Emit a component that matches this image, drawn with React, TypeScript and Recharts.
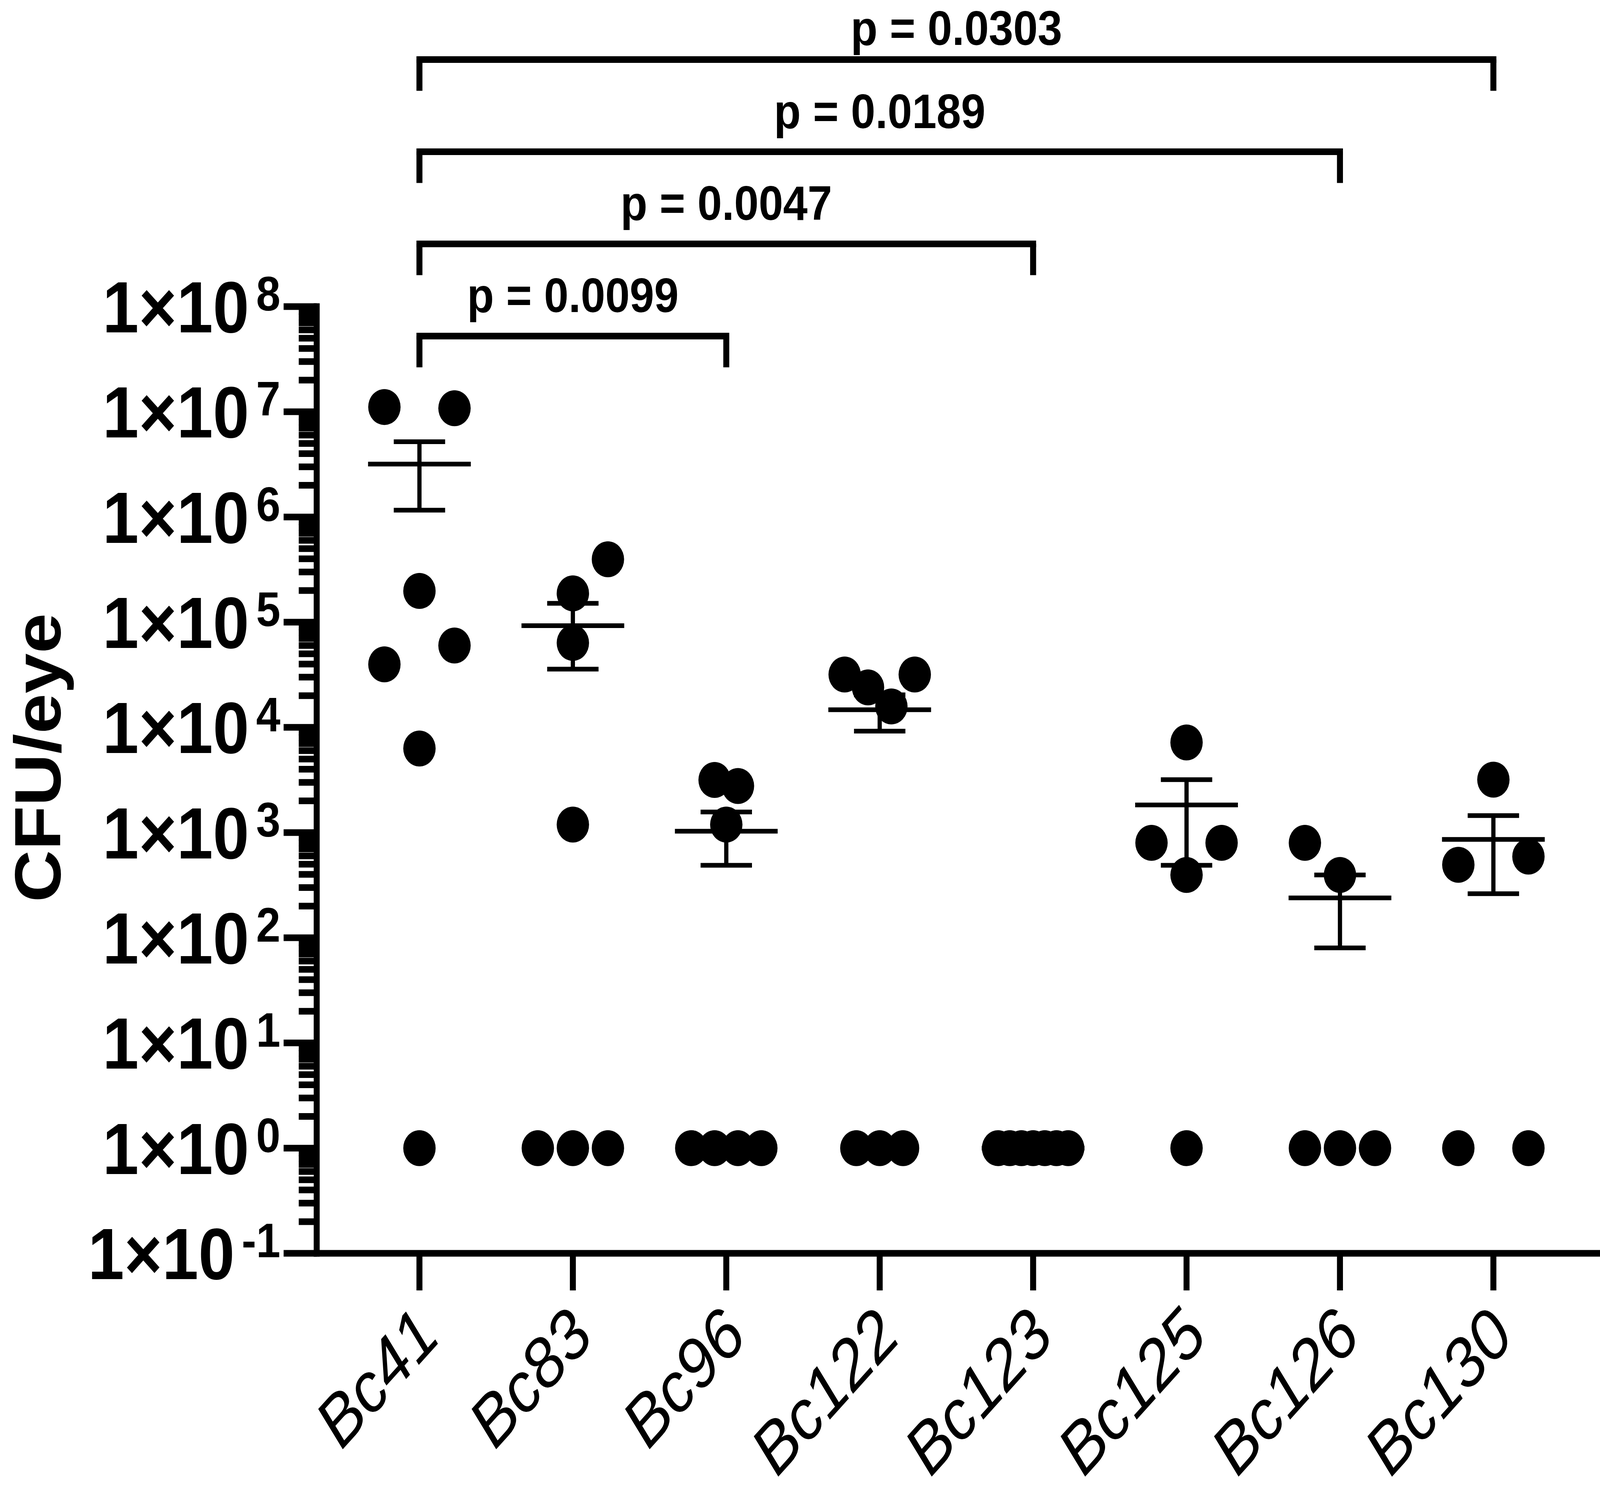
import React from 'react';
import { ScatterChart, Scatter, XAxis, YAxis, ErrorBar, ReferenceLine, ReferenceDot } from 'recharts';

// ---------------- data ----------------
const strains = ['Bc41', 'Bc83', 'Bc96', 'Bc122', 'Bc123', 'Bc125', 'Bc126', 'Bc130'];

const bc41 = [1.11e7, 1.08e7, 1.98e5, 6.0e4, 3.97e4, 6.3e3, 1];
const bc83 = [3.96e5, 1.88e5, 6.35e4, 1.19e3, 1, 1, 1];
const bc96 = [3.16e3, 2.77e3, 1.19e3, 1, 1, 1, 1];
const bc122 = [3.18e4, 2.4e4, 1.58e4, 3.18e4, 1, 1, 1];
const bc123 = [1, 1, 1, 1, 1, 1, 1];
const bc125 = [7.18e3, 798, 798, 395, 1];
const bc126 = [798, 395, 1, 1, 1];
const bc130 = [3.18e3, 494, 591, 1, 1];
const cfuByStrain = [bc41, bc83, bc96, bc122, bc123, bc125, bc126, bc130];

// horizontal dodge slot of each point (scatter-dot-plot spreading)
const slotsByStrain = [
  [-3, 3, 0, 3, -3, 0, 0],
  [3, 0, 0, 0, -3, 0, 3],
  [-1, 1, 0, -3, -1, 1, 3],
  [-3, -1, 1, 3, -2, 0, 2],
  [-3, -2, -1, 0, 1, 2, 3],
  [0, -3, 3, 0, 0],
  [-3, 0, -3, 0, 3],
  [0, -3, 3, -3, 3],
];

const meanCfu = [3.18e6, 9.25e4, 1.03e3, 1.47e4, 1, 1.83e3, 239, 861];
const semUpper = [5.19e6, 1.51e5, 1.57e3, 2.04e4, 1, 3.18e3, 395, 1.45e3];
const semLower = [1.16e6, 3.58e4, 488, 9.2e3, 1, 488, 80, 262];

const comparisons = [
  { from: 0, to: 2, label: 'p = 0.0099' },
  { from: 0, to: 4, label: 'p = 0.0047' },
  { from: 0, to: 6, label: 'p = 0.0189' },
  { from: 0, to: 7, label: 'p = 0.0303' },
];

const majorExponents = [-1, 0, 1, 2, 3, 4, 5, 6, 7, 8];
const minorMantissas = [2, 3, 4, 5, 6, 7, 8, 9];

// ---------------- layout ----------------
const W = 4547;
const H = 3815;
const VIEW_W = 4096; // the browser viewport is capped at this width
const KX = VIEW_W / W;
const PLOT_LEFT = 900;
const PLOT_TOP = 785;
const PLOT_BOTTOM = 3209;
const CAT_X0 = 1192;
const CAT_STEP = 436;
const X_MIN = (PLOT_LEFT - CAT_X0) / CAT_STEP;
const X_MAX = (W - CAT_X0) / CAT_STEP;
const SLOT = 33.2 / CAT_STEP;
const DOT_R = 46;
const MEAN_HALF = 146;
const CAP_HALF = 73;
const ERR_W = 12;
const AXIS_W = 17;
const FONT = "'Liberation Sans', Arial, Helvetica, sans-serif";

// bracket levels in decades of the log axis
const BRACKET_BASE = 7.72;
const BRACKET_STEP = 0.876;
const BRACKET_LEG = 0.297;
const BRACKET_LABEL_RISE = 0.2265;
const BRACKET_LABEL_CEIL = 10.4877; // keeps the top label inside the picture

const yTicks: number[] = [];
majorExponents.forEach((e) => {
  yTicks.push(Math.pow(10, e));
  if (e < 8) minorMantissas.forEach((m) => yTicks.push(m * Math.pow(10, e)));
});

const pointData = cfuByStrain.flatMap((vals, i) =>
  vals.map((v, j) => ({ x: i + slotsByStrain[i][j] * SLOT, y: v }))
);

const meanData = strains.map((s, i) => ({
  x: i,
  y: meanCfu[i],
  err: [meanCfu[i] - semLower[i], semUpper[i] - meanCfu[i]],
}));

// ---------------- renderers ----------------
const Dot = (p: any) => <circle cx={p.cx} cy={p.cy} r={DOT_R} fill="#000" />;

const MeanShape = (p: any) => (
  <line x1={p.cx - MEAN_HALF} x2={p.cx + MEAN_HALF} y1={p.cy} y2={p.cy} stroke="#000" strokeWidth={ERR_W} />
);

const XTick = (p: any) => {
  const { x, y, payload } = p;
  const lx = x + 65;
  const ly = y + 219;
  return (
    <g>
      <line x1={x} x2={x} y1={y} y2={y + 95} stroke="#000" strokeWidth={AXIS_W} />
      <text
        x={lx}
        y={ly}
        textAnchor="end"
        transform={`rotate(-45 ${lx} ${ly})`}
        fontFamily={FONT}
        fontSize={178}
        fontStyle="italic"
        fill="#000"
      >
        {strains[payload.value]}
      </text>
    </g>
  );
};

const YTick = (p: any) => {
  const { x, y, payload } = p;
  const v = payload.value;
  const e = Math.log10(v);
  const er = Math.round(e);
  const major = Math.abs(e - er) < 1e-6;
  if (!major) {
    return <line x1={x - 51} x2={x} y1={y} y2={y} stroke="#000" strokeWidth={AXIS_W} />;
  }
  return (
    <g>
      <line x1={x - 94} x2={x} y1={y} y2={y} stroke="#000" strokeWidth={AXIS_W} />
      <text x={x - 103} y={y + 66} textAnchor="end" fontFamily={FONT} fontWeight="bold" fontSize={185} fill="#000">
        1×10
        <tspan dx={20} dy={-56} fontSize={124}>
          {String(er)}
        </tspan>
      </text>
    </g>
  );
};

const YTitle = () => (
  <text
    x={171}
    y={1940}
    transform="rotate(-90 171 1940)"
    textAnchor="middle"
    fontFamily={FONT}
    fontWeight="bold"
    fontSize={185}
    fill="#000"
  >
    CFU/eye
  </text>
);

export default function App() {
  return (
    <div
      style={{
        position: 'absolute',
        left: 0,
        top: 0,
        width: VIEW_W,
        height: H,
        overflow: 'hidden',
        background: '#fff',
      }}
    >
      <div style={{ width: W, height: H, transform: `scaleX(${KX})`, transformOrigin: '0 0' }}>
        <ScatterChart width={W} height={H} margin={{ top: PLOT_TOP, right: 0, bottom: 0, left: 0 }}>
          <XAxis
            type="number"
            dataKey="x"
            domain={[X_MIN, X_MAX]}
            ticks={[0, 1, 2, 3, 4, 5, 6, 7]}
            interval={0}
            tickSize={0}
            tickMargin={0}
            tickLine={false}
            height={H - PLOT_BOTTOM}
            stroke="#000"
            axisLine={{ stroke: '#000', strokeWidth: AXIS_W, strokeLinecap: 'square' }}
            tick={(props: any) => <XTick {...props} />}
          />
          <YAxis
            type="number"
            dataKey="y"
            scale="log"
            domain={[0.1, 1e8]}
            ticks={yTicks}
            interval={0}
            tickSize={0}
            tickMargin={0}
            tickLine={false}
            width={PLOT_LEFT}
            stroke="#000"
            axisLine={{ stroke: '#000', strokeWidth: AXIS_W, strokeLinecap: 'square' }}
            tick={(props: any) => <YTick {...props} />}
            label={<YTitle />}
          />
          <Scatter data={meanData} dataKey="y" isAnimationActive={false} shape={MeanShape}>
            <ErrorBar
              dataKey="err"
              direction="y"
              width={CAP_HALF}
              strokeWidth={ERR_W}
              stroke="#000"
              isAnimationActive={false}
            />
          </Scatter>
          <Scatter data={pointData} dataKey="y" isAnimationActive={false} shape={Dot} />
          {comparisons.map((c, k) => {
            const level = BRACKET_BASE + k * BRACKET_STEP;
            const yv = Math.pow(10, level);
            const yLeg = Math.pow(10, level - BRACKET_LEG);
            const yLab = Math.pow(10, Math.min(level + BRACKET_LABEL_RISE, BRACKET_LABEL_CEIL));
            return (
              <React.Fragment key={c.label}>
                <ReferenceLine
                  segment={[{ x: c.from, y: yv }, { x: c.to, y: yv }]}
                  stroke="#000"
                  strokeWidth={AXIS_W}
                  strokeLinecap="square"
                  ifOverflow="visible"
                />
                <ReferenceLine
                  segment={[{ x: c.from, y: yv }, { x: c.from, y: yLeg }]}
                  stroke="#000"
                  strokeWidth={AXIS_W}
                  ifOverflow="visible"
                />
                <ReferenceLine
                  segment={[{ x: c.to, y: yv }, { x: c.to, y: yLeg }]}
                  stroke="#000"
                  strokeWidth={AXIS_W}
                  ifOverflow="visible"
                />
                <ReferenceDot
                  x={(c.from + c.to) / 2}
                  y={yLab}
                  ifOverflow="visible"
                  shape={(p: any) => (
                    <text
                      x={p.cx}
                      y={p.cy}
                      textAnchor="middle"
                      fontFamily={FONT}
                      fontWeight="bold"
                      fontSize={125}
                      fill="#000"
                    >
                      {c.label}
                    </text>
                  )}
                />
              </React.Fragment>
            );
          })}
        </ScatterChart>
      </div>
    </div>
  );
}
